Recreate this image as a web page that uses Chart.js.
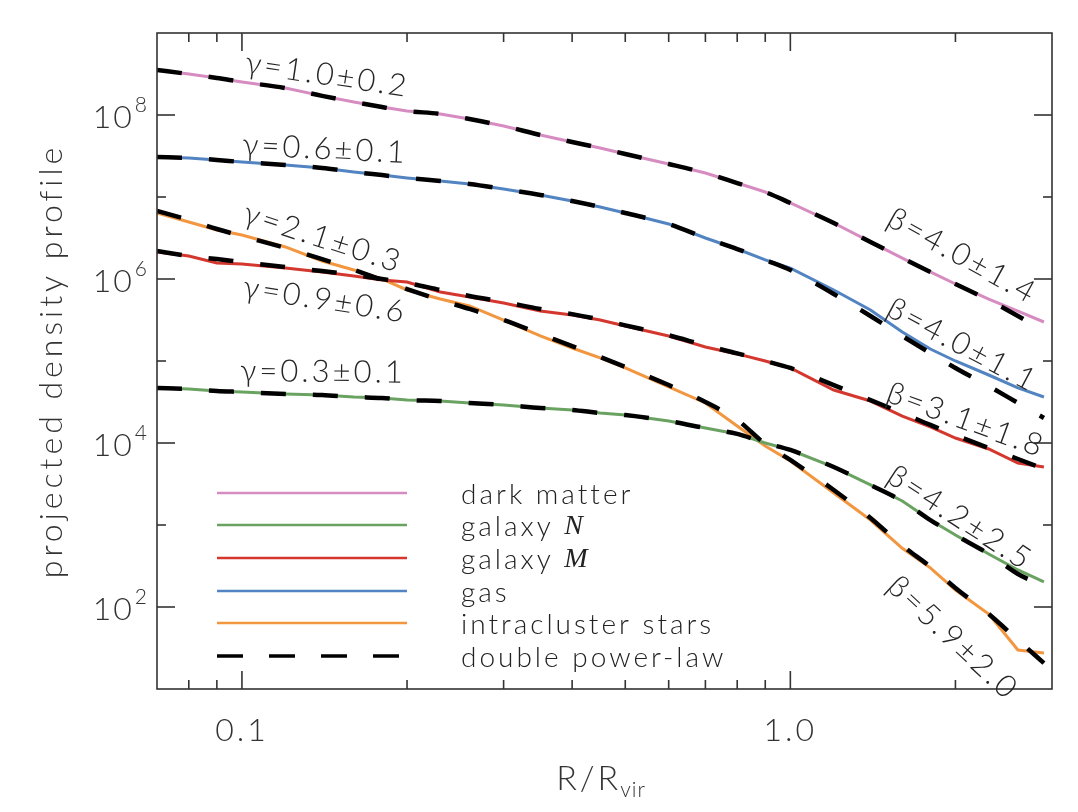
<!DOCTYPE html>
<html lang="en">
<head>
    <meta charset="UTF-8">
    <title>Projected density profiles</title>
    <script src="https://cdn.jsdelivr.net/npm/chart.js"></script>
    <style>
        body { margin: 0; background: #ffffff; }
        .chart-container { position: relative; width: 1078px; height: 812px; }
    </style>
</head>
<body>
    <div class="chart-container"><canvas id="profileChart"></canvas></div>

    <script>
        // R / R_vir sample points (shared by all profiles)
        const radius = [0.07, 0.08, 0.09, 0.1, 0.12, 0.14, 0.16, 0.18, 0.2, 0.23, 0.26, 0.3, 0.35, 0.4, 0.45,
                        0.5, 0.6, 0.7, 0.8, 0.9, 1.0, 1.2, 1.4, 1.6, 1.8, 2.0, 2.3, 2.6, 2.9];

        // measured profiles
        const darkMatter = [3.54e8, 3.16e8, 2.83e8, 2.53e8, 2.13e8, 1.71e8, 1.44e8, 1.25e8, 1.12e8, 1.03e8, 8.94e7,
                            7.35e7, 5.70e7, 4.69e7, 3.96e7, 3.34e7, 2.53e7, 1.96e7, 1.48e7, 1.15e7, 8.45e6, 4.82e6,
                            2.83e6, 1.80e6, 1.22e6, 8.69e5, 5.70e5, 4.07e5, 2.99e5];
        const galaxyN = [4.69e4, 4.56e4, 4.31e4, 4.19e4, 3.96e4, 3.85e4, 3.64e4, 3.54e4, 3.34e4, 3.25e4, 3.08e4,
                         2.91e4, 2.67e4, 2.53e4, 2.32e4, 2.19e4, 1.85e4, 1.52e4, 1.29e4, 1.00e4, 8.22e3, 5.09e3,
                         3.08e3, 1.96e3, 1.15e3, 755, 443, 283, 202];
        const galaxyM = [2.13e6, 1.91e6, 1.57e6, 1.52e6, 1.36e6, 1.22e6, 1.09e6, 9.72e5, 9.19e5, 6.94e5, 6.03e5,
                         5.09e5, 4.07e5, 3.64e5, 3.16e5, 2.67e5, 2.02e5, 1.48e5, 1.22e5, 1.00e5, 8.22e4, 4.43e4,
                         3.25e4, 2.13e4, 1.57e4, 1.15e4, 8.45e3, 5.70e3, 5.09e3];
        const gas = [3.07e7, 2.99e7, 2.83e7, 2.67e7, 2.46e7, 2.26e7, 2.02e7, 1.85e7, 1.71e7, 1.57e7, 1.44e7,
                     1.25e7, 1.06e7, 8.93e6, 7.55e6, 6.38e6, 4.69e6, 3.16e6, 2.32e6, 1.71e6, 1.36e6, 7.35e5,
                     4.19e5, 2.26e5, 1.40e5, 1.00e5, 6.75e4, 4.69e4, 3.64e4];
        const intraclusterStars = [6.38e6, 4.95e6, 3.96e6, 3.44e6, 2.46e6, 1.66e6, 1.29e6, 1.00e6, 7.35e5, 5.70e5,
                                   4.69e5, 3.16e5, 2.02e5, 1.44e5, 1.09e5, 8.22e4, 4.82e4, 3.08e4, 1.61e4, 9.19e3,
                                   6.03e3, 2.46e3, 1.15e3, 520, 300, 161, 82.2, 29.9, 27.5];

        // double power-law fits
        const darkMatterFit = [3.54e8, 3.16e8, 2.83e8, 2.53e8, 2.13e8, 1.71e8, 1.44e8, 1.25e8, 1.12e8, 1.03e8, 8.94e7,
                               7.35e7, 5.70e7, 4.69e7, 3.96e7, 3.34e7, 2.53e7, 1.96e7, 1.48e7, 1.15e7, 8.45e6, 4.82e6,
                               2.83e6, 1.80e6, 1.22e6, 8.69e5, 5.54e5, 3.54e5, 2.32e5];
        const galaxyNFit = [4.69e4, 4.56e4, 4.31e4, 4.19e4, 3.96e4, 3.85e4, 3.64e4, 3.54e4, 3.34e4, 3.25e4, 3.08e4,
                            2.91e4, 2.67e4, 2.53e4, 2.32e4, 2.19e4, 1.85e4, 1.52e4, 1.29e4, 1.00e4, 8.22e3, 5.09e3,
                            3.08e3, 1.96e3, 1.15e3, 755, 443, 253, 180];
        const galaxyMFit = [2.19e6, 1.91e6, 1.75e6, 1.61e6, 1.40e6, 1.25e6, 1.12e6, 1.00e6, 8.94e5, 7.35e5, 6.21e5,
                            5.25e5, 4.31e5, 3.73e5, 3.20e5, 2.72e5, 2.06e5, 1.55e5, 1.24e5, 1.00e5, 8.22e4, 5.09e4,
                            3.34e4, 2.32e4, 1.66e4, 1.25e4, 8.69e3, 6.38e3, 4.82e3];
        const gasFit = [3.07e7, 2.99e7, 2.83e7, 2.67e7, 2.46e7, 2.26e7, 2.02e7, 1.85e7, 1.71e7, 1.57e7, 1.44e7,
                        1.25e7, 1.06e7, 8.93e6, 7.55e6, 6.38e6, 4.69e6, 3.16e6, 2.32e6, 1.71e6, 1.29e6, 6.56e5,
                        3.54e5, 2.02e5, 1.25e5, 8.22e4, 4.95e4, 3.08e4, 2.02e4];
        const intraclusterStarsFit = [6.75e6, 5.25e6, 4.07e6, 3.34e6, 2.39e6, 1.75e6, 1.29e6, 9.72e5, 7.55e5, 5.54e5,
                                      4.31e5, 3.16e5, 2.13e5, 1.52e5, 1.12e5, 8.45e4, 5.09e4, 3.16e4, 1.91e4, 9.72e3,
                                      6.21e3, 2.67e3, 1.22e3, 560, 310, 171, 82.2, 39.6, 20.7];

        // axis ticks
        const xMajorTicks = [0.1, 1.0];
        const xTickLabels = ['0.1', '1.0'];
        const xMinorTicks = [0.08, 0.09, 0.2, 0.3, 0.4, 0.5, 0.6, 0.7, 0.8, 0.9, 2, 3];
        const yMajorTicks = [1e2, 1e4, 1e6, 1e8];
        const yTickExponents = ['2', '4', '6', '8'];
        const yMinorTicks = [1e3, 1e5, 1e7];

        // slope annotations: text, R, value, angle (deg)
        const slopeText = ['γ=1.0±0.2', 'γ=0.6±0.1', 'γ=2.1±0.3', 'γ=0.9±0.6', 'γ=0.3±0.1',
                           'β=4.0±1.4', 'β=4.0±1.1', 'β=3.1±1.8', 'β=4.2±2.5', 'β=5.9±2.0'];
        const slopeR = [0.143, 0.1417, 0.1405, 0.1417, 0.1405, 2.06, 2.06, 2.09, 2.04, 1.98];
        const slopeValue = [3.07e8, 3.85e7, 3.16e6, 5.54e5, 7.35e4, 1.91e6, 1.57e5, 1.91e4, 1.22e3, 41.9];
        const slopeAngle = [8.4, 2.7, 18, 9, 0.5, 29, 28, 20, 33, 43];

        const componentNames = ['dark matter', 'galaxy *N*', 'galaxy *M*', 'gas', 'intracluster stars'];
        const componentColors = ['#d68cc0', '#6aa262', '#d4372d', '#5284c2', '#f29640'];
        const componentData = [darkMatter, galaxyN, galaxyM, gas, intraclusterStars];
        const componentFits = [darkMatterFit, galaxyNFit, galaxyMFit, gasFit, intraclusterStarsFit];
        const fitName = 'double power-law';

        const ink = '#333333';
        const fontFamily = 'Lato, "Open Sans", "DejaVu Sans", sans-serif';

        const toPoints = values => values.map((v, i) => ({ x: radius[i], y: v }));

        const datasets = [];
        componentNames.forEach((name, i) => {
            datasets.push({
                label: name.replace(/\*/g, ''),
                data: toPoints(componentData[i]),
                borderColor: componentColors[i],
                borderWidth: 3,
                pointRadius: 0,
                tension: 0,
                order: 2
            });
        });
        componentNames.forEach((name, i) => {
            datasets.push({
                label: fitName,
                data: toPoints(componentFits[i]),
                borderColor: '#000000',
                borderWidth: 4.5,
                borderDash: [25, 27],
                pointRadius: 0,
                cubicInterpolationMode: 'monotone',
                order: 1
            });
        });

        // draws the frame, inward ticks, tick labels, axis titles, annotations and legend
        const decorations = {
            id: 'decorations',
            afterDatasetsDraw(chart) {
                const { ctx, chartArea: a, scales: { x, y } } = chart;
                ctx.save();
                ctx.strokeStyle = ink;
                ctx.fillStyle = ink;
                ctx.lineWidth = 1.6;

                const seg = (x1, y1, x2, y2) => {
                    ctx.beginPath(); ctx.moveTo(x1, y1); ctx.lineTo(x2, y2); ctx.stroke();
                };
                ctx.strokeRect(a.left, a.top, a.right - a.left, a.bottom - a.top);

                xMajorTicks.forEach(v => {
                    const px = x.getPixelForValue(v);
                    seg(px, a.bottom, px, a.bottom - 18); seg(px, a.top, px, a.top + 18);
                });
                xMinorTicks.forEach(v => {
                    const px = x.getPixelForValue(v);
                    if (px > a.right - 1) return;
                    seg(px, a.bottom, px, a.bottom - 9); seg(px, a.top, px, a.top + 9);
                });
                yMajorTicks.forEach(v => {
                    const py = y.getPixelForValue(v);
                    seg(a.left, py, a.left + 18, py); seg(a.right, py, a.right - 18, py);
                });
                yMinorTicks.forEach(v => {
                    const py = y.getPixelForValue(v);
                    seg(a.left, py, a.left + 9, py); seg(a.right, py, a.right - 9, py);
                });

                // x tick labels
                ctx.font = '300 32px ' + fontFamily;
                ctx.textAlign = 'center';
                ctx.textBaseline = 'alphabetic';
                ctx.letterSpacing = '3px';
                xMajorTicks.forEach((v, i) => {
                    ctx.fillText(xTickLabels[i], x.getPixelForValue(v), a.bottom + 52);
                });

                // y tick labels 10^n
                yMajorTicks.forEach((v, i) => {
                    const py = y.getPixelForValue(v);
                    ctx.letterSpacing = '0px';
                    ctx.font = '300 21px ' + fontFamily;
                    ctx.textAlign = 'right';
                    ctx.fillText(yTickExponents[i], a.left - 10, py - 3);
                    const expW = ctx.measureText(yTickExponents[i]).width;
                    ctx.letterSpacing = '2px';
                    ctx.font = '300 32px ' + fontFamily;
                    ctx.fillText('10', a.left - 11 - expW, py + 13);
                });

                // axis titles
                ctx.letterSpacing = '4px';
                ctx.font = '300 32px ' + fontFamily;
                ctx.textAlign = 'center';
                ctx.save();
                ctx.translate(62, (a.top + a.bottom) / 2);
                ctx.rotate(-Math.PI / 2);
                ctx.fillText('projected density profile', 0, 0);
                ctx.restore();

                ctx.letterSpacing = '3px';
                ctx.font = '300 34px ' + fontFamily;
                const main = 'R/R';
                const mainW = ctx.measureText(main).width;
                ctx.font = '300 21px ' + fontFamily;
                const subW = ctx.measureText('vir').width;
                const startX = (a.left + a.right) / 2 - (mainW + subW) / 2;
                ctx.textAlign = 'left';
                ctx.font = '300 34px ' + fontFamily;
                ctx.fillText(main, startX, a.bottom + 101);
                ctx.letterSpacing = '1px';
                ctx.font = '300 21px ' + fontFamily;
                ctx.fillText('vir', startX + mainW - 1, a.bottom + 108);

                // slope annotations
                ctx.fillStyle = '#262626';
                ctx.font = '300 31px ' + fontFamily;
                ctx.textAlign = 'center';
                ctx.textBaseline = 'middle';
                ctx.letterSpacing = '3px';
                slopeText.forEach((t, i) => {
                    ctx.save();
                    ctx.translate(x.getPixelForValue(slopeR[i]), y.getPixelForValue(slopeValue[i]));
                    ctx.rotate(slopeAngle[i] * Math.PI / 180);
                    ctx.fillText(t, 0, 0);
                    ctx.restore();
                });

                // legend
                const rowY = [493, 525, 558, 591, 623, 656];
                const lineX0 = 217, lineX1 = 407, textX = 461;
                ctx.textAlign = 'left';
                ctx.textBaseline = 'middle';
                ctx.fillStyle = '#222222';
                const legendItems = componentNames.map((n, i) => ({ text: n, color: componentColors[i], dash: [] }));
                legendItems.push({ text: fitName, color: '#000000', dash: [26, 26] });
                legendItems.forEach((item, i) => {
                    ctx.save();
                    ctx.strokeStyle = item.color;
                    ctx.lineWidth = item.dash.length ? 3.5 : 2.5;
                    ctx.setLineDash(item.dash);
                    seg(lineX0, rowY[i], lineX1, rowY[i]);
                    ctx.restore();
                    let tx = textX;
                    item.text.split('*').forEach((part, k) => {
                        if (!part) return;
                        if (k % 2) {
                            ctx.letterSpacing = '0px';
                            ctx.font = 'italic 28px "Liberation Serif", "DejaVu Serif", serif';
                        } else {
                            ctx.letterSpacing = '3px';
                            ctx.font = '300 28px ' + fontFamily;
                        }
                        ctx.fillText(part, tx, rowY[i] + 2);
                        tx += ctx.measureText(part).width;
                    });
                });
                ctx.restore();
            }
        };

        const config = {
            type: 'line',
            data: { datasets: datasets },
            options: {
                responsive: true,
                maintainAspectRatio: false,
                animation: false,
                layout: { padding: { left: 157, right: 26, top: 33, bottom: 123 } },
                plugins: { legend: { display: false }, tooltip: { enabled: false } },
                scales: {
                    x: {
                        type: 'logarithmic', min: 0.07, max: 3.0,
                        ticks: { display: false },
                        grid: { display: false, drawTicks: false },
                        border: { display: false }
                    },
                    y: {
                        type: 'logarithmic', min: 10, max: 1e9,
                        ticks: { display: false },
                        grid: { display: false, drawTicks: false },
                        border: { display: false }
                    }
                }
            },
            plugins: [decorations]
        };

        const profileChart = new Chart(document.getElementById('profileChart'), config);
    </script>
</body>
</html>
